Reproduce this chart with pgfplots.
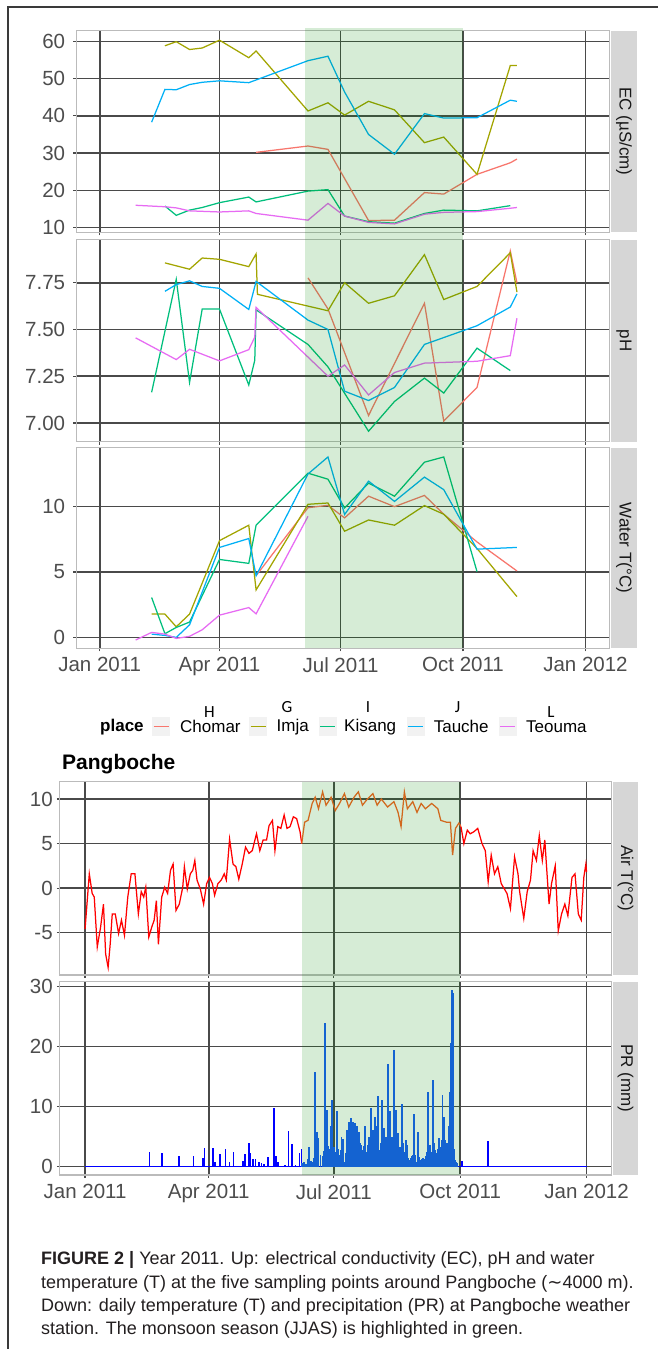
\documentclass[border=0pt]{standalone}
\usepackage{pgfplots}
\pgfplotsset{compat=1.18}
\usepackage{fontspec}
\setmainfont{Liberation Sans}
\newfontfamily\carlito{Carlito}
\newfontfamily\dejavu{DejaVu Sans}
\definecolor{cH}{HTML}{F8766D}
\definecolor{cG}{HTML}{A3A500}
\definecolor{cI}{HTML}{00BF7D}
\definecolor{cJ}{HTML}{00B0F6}
\definecolor{cL}{HTML}{E76BF3}
\definecolor{gridc}{HTML}{4A4A4A}
\definecolor{borderc}{HTML}{BBBBBB}
\definecolor{stripc}{HTML}{D6D6D6}
\definecolor{labc}{HTML}{4D4D4D}
\definecolor{shadec}{RGB}{0,140,0}
\definecolor{airred}{RGB}{255,0,0}
\definecolor{airorange}{RGB}{250,98,36}
\definecolor{prblue}{RGB}{0,0,255}
\definecolor{prblue2}{RGB}{24,92,250}
\definecolor{keybg}{HTML}{F2F2F2}
\definecolor{framec}{HTML}{3A3A3A}
\definecolor{captc}{HTML}{231F20}

\pgfplotsset{
  panel/.style={
    scale only axis, anchor=south west,
    axis line style={draw=borderc, line width=1.2pt},
    xmin=-17.6, xmax=382.9,
    xtick={0,90,181,273,365},
    xticklabels={},
    grid=major,
    major grid style={draw=gridc, line width=1.6pt},
    tick align=outside, major tick length=3pt,
    tick pos=left,
    tick style={draw=gridc, line width=1.2pt},
    yticklabel style={font=\fontsize{20.5}{20.5}\selectfont, text=labc, inner sep=0pt},
    every axis plot/.append style={line width=1.25pt, mark=none},
  },
  datelabels/.style={
    xticklabels={Jan 2011,Apr 2011,Jul 2011,Oct 2011,Jan 2012},
    xticklabel style={font=\fontsize{20.5}{20.5}\selectfont, text=labc, inner sep=0pt, yshift=-6pt},
  },
}

\begin{document}
\begin{tikzpicture}[x=1pt,y=1pt]
\useasboundingbox (0,0) rectangle (657,1349);
\fill[white] (0,0) rectangle (657,1349);
\draw[framec, line width=1.4pt] (8,0) -- (8,1342) -- (658,1342);

% ---------------- EC ----------------
\begin{axis}[panel, at={(76.3pt,1116.7pt)}, width=533pt, height=201.6pt,
  ymin=8.75, ymax=62.85, ytick={10,20,30,40,50,60}, yticklabels={10,20,30,40,50,60},
  yticklabel style={xshift=-8pt}]
\addplot[cH] coordinates {(117.5,30.2) (156.5,31.9) (171.5,31.0) (202,11.9) (221.5,12.0) (244,19.4) (258.5,19.0) (283.5,24.3) (308.5,27.4) (313.5,28.4)};
\addplot[cG] coordinates {(49,58.8) (57.5,59.9) (67.5,57.8) (77,58.2) (90,60.3) (112,55.6) (117.5,57.4) (156.5,41.3) (171.5,43.5) (184,40.2) (202,43.9) (221.5,41.6) (244,32.8) (258.5,34.3) (283.5,24.3) (308.5,53.5) (313.5,53.5)};
\addplot[cI] coordinates {(49,15.8) (57.5,13.3) (67.5,14.7) (77,15.4) (90,16.7) (112,18.2) (117.5,16.9) (156.5,19.8) (171.5,20.2) (184,13.1) (202,11.6) (221.5,11.2) (244,13.8) (258.5,14.7) (283.5,14.5) (308.5,15.9)};
\addplot[cJ] coordinates {(39,38.3) (49,47.1) (57.5,47.0) (67.5,48.4) (77,49.0) (90,49.4) (112,48.9) (156.5,54.8) (171.5,56.0) (184,46.4) (202,35.0) (221.5,29.7) (244,40.6) (258.5,39.4) (283.5,39.5) (308.5,44.2) (313.5,43.9)};
\addplot[cL] coordinates {(27,16.0) (49,15.6) (57.5,15.3) (67.5,14.5) (90,14.2) (112,14.5) (117.5,13.8) (156.5,12.0) (171.5,16.5) (184,13.1) (202,11.4) (221.5,11.0) (244,13.6) (258.5,14.1) (283.5,14.3) (308.5,15.2) (313.5,15.4)};
\coordinate (shTL) at (axis cs:154.2,63.6);
\end{axis}

% ---------------- pH ----------------
\begin{axis}[panel, at={(76.3pt,907.3pt)}, width=533pt, height=202pt,
  ymin=6.90, ymax=7.98, ytick={7,7.25,7.5,7.75}, yticklabels={7.00,7.25,7.50,7.75},
  yticklabel style={xshift=-8pt}]
\addplot[cH] coordinates {(156.5,7.776) (171.5,7.61) (202,7.04) (244,7.64) (258.5,7.01) (283.5,7.19) (308.5,7.92) (313.5,7.75)};
\addplot[cG] coordinates {(49,7.856) (67.5,7.822) (77,7.882) (90,7.875) (112,7.836) (117.5,7.904) (118.5,7.688) (171.5,7.60) (184,7.75) (202,7.64) (221.5,7.68) (244,7.90) (258.5,7.66) (283.5,7.73) (308.5,7.91) (313.5,7.70)};
\addplot[cI] coordinates {(39,7.164) (57.5,7.768) (67.5,7.217) (77,7.609) (90,7.609) (112,7.203) (116.5,7.335) (117.5,7.605) (156.5,7.42) (171.5,7.30) (202,6.956) (221.5,7.115) (244,7.24) (258.5,7.16) (283.5,7.40) (308.5,7.28)};
\addplot[cJ] coordinates {(49,7.704) (57.5,7.74) (67.5,7.76) (77,7.73) (90,7.72) (112,7.607) (117.5,7.757) (156.5,7.55) (171.5,7.50) (184,7.17) (202,7.12) (221.5,7.19) (244,7.42) (283.5,7.52) (308.5,7.62) (313.5,7.69)};
\addplot[cL] coordinates {(27,7.455) (57.5,7.339) (67.5,7.394) (90,7.332) (112,7.392) (116.5,7.459) (117.5,7.618) (171.5,7.25) (184,7.31) (202,7.15) (221.5,7.27) (244,7.32) (283.5,7.33) (308.5,7.36) (313.5,7.56)};
\end{axis}

% ---------------- Water T ----------------
\begin{axis}[panel, datelabels, at={(76.3pt,700.7pt)}, width=533pt, height=200.6pt,
  ymin=-0.835, ymax=14.51, ytick={0,5,10}, yticklabels={0,5,10},
  yticklabel style={xshift=-8pt}]
\addplot[cH] coordinates {(117.5,4.72) (156.5,9.92) (171.5,10.1) (184,9.14) (202,10.8) (221.5,10.0) (244,10.86) (258.5,9.42) (283.5,7.3) (313.5,5.08)};
\addplot[cG] coordinates {(39,1.78) (49,1.78) (57.5,0.81) (67.5,1.78) (90,7.4) (112,8.58) (117.5,3.63) (156.5,10.18) (171.5,10.28) (184,8.12) (202,8.98) (221.5,8.58) (244,10.08) (258.5,9.42) (283.5,6.8) (313.5,3.12)};
\addplot[cI] coordinates {(39,3.05) (49,0.28) (57.5,0.76) (67.5,1.17) (90,5.96) (112,5.66) (117.5,8.58) (156.5,12.56) (171.5,12.1) (184,9.9) (202,11.8) (221.5,10.8) (244,13.4) (258.5,13.8) (283.5,5.03)};
\addplot[cJ] coordinates {(39,0.25) (49,0.15) (57.5,0.0) (67.5,0.96) (90,6.88) (112,7.56) (117.5,4.72) (156.5,12.5) (171.5,13.8) (184,9.4) (202,11.95) (221.5,10.4) (244,12.26) (258.5,11.3) (283.5,6.75) (313.5,6.88)};
\addplot[cL] coordinates {(27,-0.2) (39,0.38) (49,0.25) (57.5,-0.08) (67.5,0.08) (77,0.58) (90,1.7) (112,2.28) (117.5,1.8) (156.5,9.26)};
\coordinate (shBR) at (axis cs:272.8,-0.835);
\end{axis}

% ---------------- Air T ----------------
\begin{axis}[panel, at={(59.9pt,374pt)}, width=551.8pt, height=193.3pt, xmin=-18.3, xmax=383.3,
  ymin=-9.75, ymax=11.94, ytick={-5,0,5,10}, yticklabels={-5,0,5,10},
  yticklabel style={xshift=-4pt}]
\addplot[airred] coordinates {(0,-4.6) (3.1,1.6) (5.2,-0.6) (6.7,-1.0) (8.9,-6.6) (11.3,-4.4) (13.4,-1.8) (15,-7.4) (16.8,-8.9) (18.3,-6.3) (19.8,-2.9) (22,-2.9) (24.4,-5.1) (26.5,-3.6) (28.7,-5.3) (31.1,-1.0) (33.6,1.6) (36.3,1.6) (38.8,-2.9) (40.9,-0.4) (42.7,-1.0) (44.2,0.1) (46.4,-5.5) (48.5,-4.4) (50.3,-3.6) (51.9,-1.4) (53.4,-6.3) (55.8,-1.0) (58,0.1) (60.1,-0.6) (62.2,2.0) (64.1,2.7) (66.2,-2.5) (68.6,-1.8) (71.1,0.1) (72.3,2.4) (74.4,-0.1) (76.6,1.6) (78.4,2.0) (79.9,3.1) (81.5,0.9) (83.9,-0.1) (86.3,-1.8) (88.5,0.5) (90.6,1.2) (92.7,0.5) (94.3,-0.8) (96.7,0.5) (99.1,0.9) (101.3,1.6) (102.8,0.9) (105.2,5.5) (107.7,2.7) (109.8,2.4) (111.9,1.0) (114.4,2.7) (116.8,4.6) (119.3,3.9) (121.7,4.2) (124.8,6.1) (127.2,4.2) (129.6,5.4) (132.1,5.4) (133.9,7.0) (136.4,7.6) (138.2,4.2) (140.3,6.9) (142.5,6.7) (144.9,8.2) (147,6.7) (149.2,6.9) (151.6,8.0) (154,7.8) (156.5,6.3) (157.7,5.0)};
\addplot[airorange] coordinates {(157.7,5.0) (159.8,7.4) (162.3,7.6) (165.3,9.5) (167.5,10.2) (169.9,8.9) (172.9,10.8) (175.4,9.3) (179.1,10.2) (182.1,8.7) (185.2,9.5) (188.8,10.6) (191.9,9.1) (195.8,10.2) (198.9,10.8) (201.9,9.3) (205,9.9) (209.5,10.6) (212.6,9.3) (215.6,10.0) (220.2,9.1) (224.8,9.7) (227.8,8.5) (230,6.9) (232.4,10.8) (234.6,8.9) (238.5,9.7) (241.6,8.5) (244.6,9.5) (247.7,8.9) (252.3,9.5) (256.8,8.9) (258.9,7.6) (262.9,7.4) (265.9,7.4) (267.5,3.7) (269.6,6.7) (272.1,7.3) (273.6,6.9)};
\addplot[airred] coordinates {(273.6,6.9) (275.7,5.0) (278.2,6.5) (280.3,6.1) (282.8,6.3) (285.8,6.7) (288.9,5.0) (291.3,4.2) (293.4,0.7) (295.6,3.7) (298,1.6) (300.4,2.4) (302.9,0.5) (307.1,-0.6) (309.6,-2.3) (312.6,3.5) (315.1,1.6) (316.3,-0.4) (319.3,-3.4) (321.8,-0.4) (324.2,0.9) (326.1,4.2) (328.5,3.1) (330.6,5.9) (332.8,3.1) (334.6,5.4) (337.7,-1.8) (339.5,0.5) (342.2,2.5) (344.4,-4.8) (346.8,-2.9) (349.2,-1.8) (351.4,-3.1) (354.4,1.2) (356.6,1.6) (359,-2.9) (361.1,-3.6) (363,1.2) (364.5,2.7) (365,1.8)};
\coordinate (sbTL) at (axis cs:157.6,11.94);
\end{axis}

% ---------------- PR ----------------
\begin{axis}[panel, datelabels, at={(59.9pt,174pt)}, width=551.8pt, height=193.3pt, xmin=-18.3, xmax=383.3,
  ymin=-1.39, ymax=30.83, ytick={0,10,20,30}, yticklabels={0,10,20,30},
  yticklabel style={xshift=-4pt}]
\addplot[prblue, line width=1.2pt] coordinates {(0,0) (365,0)};
\addplot[prblue, ycomb, line width=1.5pt] coordinates {(47,2.5) (56.1,2.2) (68.3,1.8) (79,1.7) (86,1.4) (86.9,3.1) (93,3.1) (94.6,0.8) (98.2,2.1) (102.2,2.9) (105.2,0.7) (108,2.4) (115,1.0) (116.5,2.1) (119.3,3.9) (120.5,2.2) (122.3,1.3) (124.2,1.2) (126.6,0.7) (128.4,0.55) (130.3,0.45) (133.3,1.6) (137.6,9.7) (138.8,1.7) (140.3,0.8) (145.5,0.3) (147.9,5.9) (150.7,3.8) (153.1,0.2) (156.2,2.2) (157.4,2.9) (293.4,4.2) (274.5,0.9)};
\addplot[prblue2, ycomb, line width=1.8pt] coordinates {(158,0.6) (159.2,0.8) (160,0.4) (160.8,0.5) (162,1.2) (163.2,3.2) (164.2,1.0) (165.3,0.8) (166.4,1.5) (167.5,15.8) (168.7,5.8) (169.9,4.7) (171.4,1.9) (172.9,1.7) (173.7,2.6) (174.5,23.9) (175.3,4.0) (176,9.4) (176.8,3.5) (177.5,2.8) (178.3,3.0) (179.1,6.7) (180,11.1) (181.2,3.3) (182.1,0.8) (182.9,2.4) (183.6,9.2) (184.4,3.0) (185.2,1.9) (185.9,2.7) (186.7,5.0) (187.6,4.6) (188.8,0.8) (189.7,2.2) (190.6,6.1) (191.2,4.5) (191.9,7.5) (192.6,5.0) (193.4,8.1) (194.1,6.0) (194.9,7.5) (195.6,5.8) (196.4,7.2) (197.2,6.0) (198,6.7) (198.6,5.0) (199.2,5.8) (200,4.0) (200.7,3.6) (201.5,2.8) (202.2,2.2) (202.9,3.5) (203.5,6.7) (204.1,4.0) (204.7,2.5) (205.6,3.6) (206.5,5.0) (207.3,4.0) (208,9.7) (208.8,5.0) (209.5,6.1) (210.3,4.5) (211.1,8.3) (211.8,5.5) (212.6,6.7) (213.5,11.7) (214.7,2.8) (215.5,4.0) (216.3,11.1) (217.1,5.5) (217.8,6.4) (218.6,4.5) (219.3,5.0) (219.9,3.5) (220.5,17.1) (221.1,6.0) (221.7,9.2) (222.5,4.0) (223.3,5.0) (224.2,3.0) (225.1,19.4) (225.7,6.0) (226.3,9.4) (227,5.0) (227.8,5.6) (228.6,3.0) (229.4,3.3) (230,2.5) (230.6,10.4) (231.2,4.0) (231.8,1.9) (232.6,2.5) (233.3,4.4) (234,2.5) (234.6,3.6) (235.4,1.5) (236.1,1.1) (236.9,1.4) (237.6,1.7) (238.6,2.0) (239.7,8.8) (240.5,2.0) (241.3,0.8) (241.9,1.5) (242.5,5.7) (243.2,1.6) (244,1.1) (245.1,1.2) (246.2,1.4) (247.1,1.3) (248,1.7) (248.8,2.5) (249.5,12.5) (250.2,3.0) (251,3.6) (251.6,2.5) (252.3,1.7) (252.9,3.0) (253.5,14.4) (254.1,4.0) (254.7,2.8) (255.3,2.2) (255.9,1.9) (256.6,3.0) (257.4,4.7) (258.2,3.2) (259,2.8) (259.6,4.5) (260.2,11.9) (260.8,6.0) (261.4,8.3) (262.1,4.5) (262.9,3.3) (263.7,4.0) (264.5,6.7) (265.4,12.5) (266.3,20.6) (267.2,29.4) (268.1,29.0) (268.7,3.0) (269.4,1.1) (270,0.8) (270.6,0.6)};
\coordinate (sbBR) at (axis cs:272.9,-1.39);
\end{axis}

% shading overlays
\fill[shadec, fill opacity=0.16] (shTL) rectangle (shBR);
\fill[shadec, fill opacity=0.16] (sbTL) rectangle (sbBR);

% strips
\fill[stripc] (611,1116.7) rectangle (637,1318.3);
\fill[stripc] (611,907.3) rectangle (637,1109.3);
\fill[stripc] (611,700.7) rectangle (637,901.3);
\fill[stripc] (613,374) rectangle (638,567.3);
\fill[stripc] (613,174) rectangle (638,367.3);
\begin{scope}[every node/.style={rotate=-90, font=\fontsize{17}{17}\selectfont, text=black!90, inner sep=0pt}]
\node at (624,1217.5) {EC (µS/cm)};
\node at (624,1008.3) {pH};
\node at (624,801) {Water T(°C)};
\node at (625.5,470.7) {Air T(°C)};
\node at (625.5,270.7) {PR (mm)};
\end{scope}

% legend
\node[anchor=west, inner sep=0pt, font=\bfseries\fontsize{17}{17}\selectfont] at (100,622.3) {place};
\foreach \kx/\tx/\col/\lab in {152/180/cH/Chomar, 249/276.5/cG/Imja, 318.5/344/cI/Kisang, 406.5/433.6/cJ/Tauche, 498.6/526/cL/Teouma}{
  \fill[keybg] (\kx,612.9) rectangle ++(18,18.8);
  \draw[\col, line width=1.2pt] (\kx+1.5,622.3) -- ++(15,0);
  \node[anchor=west, inner sep=0pt, font=\fontsize{17}{17}\selectfont] at (\tx,622.3) {\lab};
}
\begin{scope}[every node/.style={font=\carlito\fontsize{17}{17}\selectfont, inner sep=0pt}]
\node at (209.5,637.3) {H};
\node at (287,642.3) {G};
\node at (368,642.3) {I};
\node at (457.5,642.3) {J};
\node at (551,637.3) {L};
\end{scope}

% title
\node[anchor=west, inner sep=0pt, font=\bfseries\fontsize{21}{21}\selectfont] at (62,585) {Pangboche};

% caption
\begin{scope}[every node/.style={anchor=base west, inner sep=0pt, text=captc, font=\fontsize{18}{18}\selectfont}]
\node at (41,84) {\textbf{FIGURE 2 |} Year 2011. Up: electrical conductivity (EC), pH and water};
\node at (41,60.5) {temperature (T) at the five sampling points around Pangboche ({\dejavu ∼}4000 m).};
\node at (41,37.5) {Down: daily temperature (T) and precipitation (PR) at Pangboche weather};
\node at (41,14.5) {station. The monsoon season (JJAS) is highlighted in green.};
\end{scope}
\end{tikzpicture}
\end{document}
